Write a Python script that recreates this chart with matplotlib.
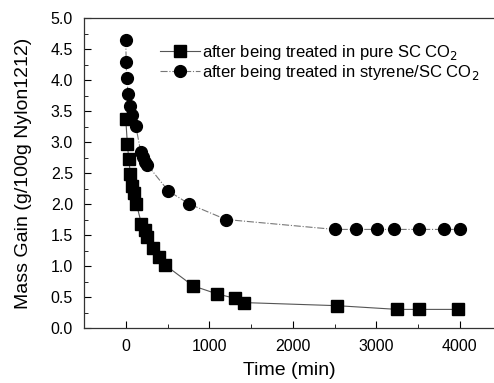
import matplotlib
matplotlib.use("Agg")
import matplotlib.pyplot as plt
from matplotlib.ticker import MultipleLocator, FormatStrFormatter

plt.rcParams['font.family'] = ['Liberation Sans', 'DejaVu Sans']

t_pure = [0, 20, 36, 56, 75, 100, 128, 188, 228, 260, 327, 399, 467, 806, 1093, 1305, 1417, 2531, 3253, 3511, 3983]
m_pure = [3.37, 2.96, 2.72, 2.48, 2.29, 2.18, 2.00, 1.68, 1.58, 1.46, 1.29, 1.15, 1.02, 0.68, 0.55, 0.48, 0.41, 0.36, 0.30, 0.30, 0.30]

t_sty = [0, 5, 10, 30, 50, 80, 120, 180, 210, 230, 260, 510, 760, 1200, 2503, 2754, 3006, 3210, 3509, 3813, 4004]
m_sty = [4.65, 4.29, 4.04, 3.77, 3.58, 3.44, 3.26, 2.84, 2.76, 2.68, 2.63, 2.21, 2.00, 1.75, 1.59, 1.59, 1.59, 1.59, 1.59, 1.59, 1.59]

fig = plt.figure(figsize=(4.94, 3.83), dpi=100)
ax = fig.add_axes([84/494, 55/383, 410/494, 310/383])

ax.plot(t_pure, m_pure, color='#555555', lw=0.8, ls='-', marker='s', ms=8.5,
        mfc='black', mec='black', label='after being treated in pure SC CO$_2$')
ax.plot(t_sty, m_sty, color='#777777', lw=0.8, ls='-.', marker='o', ms=8.5,
        mfc='black', mec='black', label='after being treated in styrene/SC CO$_2$')

ax.set_xlim(-500, 4410)
ax.set_ylim(0, 5.0)
ax.xaxis.set_major_locator(MultipleLocator(1000))
ax.xaxis.set_minor_locator(MultipleLocator(500))
ax.yaxis.set_major_locator(MultipleLocator(0.5))
ax.yaxis.set_minor_locator(MultipleLocator(0.25))
ax.yaxis.set_major_formatter(FormatStrFormatter('%.1f'))
ax.tick_params(which='both', direction='in', labelsize=11.5, top=False, right=False)
ax.tick_params(axis='x', pad=8)
ax.tick_params(axis='y', pad=8)
ax.tick_params(which='major', length=5)
ax.tick_params(which='minor', length=3)
ax.spines['right'].set_visible(False)
for s in ['left', 'bottom', 'top']:
    ax.spines[s].set_color('#333333')
    ax.spines[s].set_linewidth(0.9)

ax.set_xlabel('Time (min)', fontsize=14, labelpad=6)
ax.set_ylabel('Mass Gain (g/100g Nylon1212)', fontsize=14, labelpad=13)

ax.legend(loc='upper left', bbox_to_anchor=(0.17, 0.94), frameon=False, fontsize=12,
          handlelength=2.4, handletextpad=0.1, labelspacing=0.05, borderaxespad=0)

fig.savefig('out.png', dpi=100)
